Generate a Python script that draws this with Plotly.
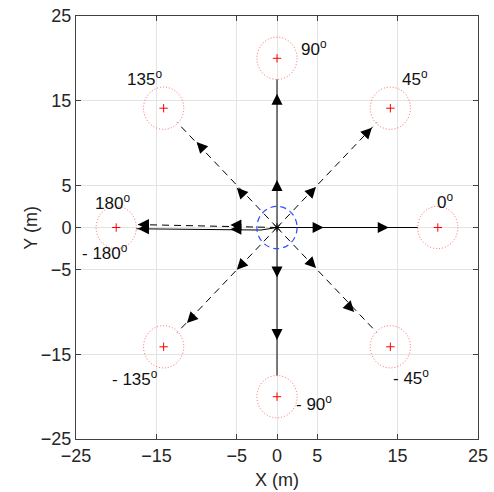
import plotly.graph_objects as go

# ---- data ----
tick_vals = [-25, -15, -5, 0, 5, 15, 25]

target_x = [20, 14.1, 0, -14.1, -20, -14.1, 0, 14.1]
target_y = [0, 14.1, 20, 14.1, 0, -14.1, -20, -14.1]
capture_r = 2.5

label_text = ["0<sup>o</sup>", "45<sup>o</sup>", "90<sup>o</sup>", "135<sup>o</sup>", "180<sup>o</sup>",
              "- 135<sup>o</sup>", "- 90<sup>o</sup>", "- 45<sup>o</sup>", "- 180<sup>o</sup>"]
label_x = [20.9, 17.2, 4.6, -16.5, -20.4, -17.7, 4.6, 16.7, -21.4]
label_y = [3.1, 17.7, 21.2, 17.7, 3.0, -17.8, -20.7, -17.7, -2.9]

# paths (start -> end) and their styles
path_x = [[0, 17.5], [0, 12.4], [0, 0], [0, -12.4], [0, -17.5], [0, -2.0, -17.5], [0, -12.4], [0, 0], [0, 12.4]]
path_y = [[0, 0], [0, 12.4], [0, 17.5], [0, 12.4], [0, 0.35], [0, -0.3, -0.15], [0, -12.4], [0, -17.5], [0, -12.4]]
path_dash = ["solid", "dash", "solid", "dash", "dash", "solid", "dash", "solid", "dash"]

# arrow tips along each path and their direction
arrow_x = [5.8, 13.9, 4.85, 11.8, 0, 0, -5.0, -10.0, -5.8, -17.3, -5.8, -17.3, -5.0, -11.2, 0, 0, 4.85, 9.6]
arrow_y = [0, 0, 4.8, 11.8, 5.6, 15.8, 4.7, 10.1, 0.3, 0.35, -0.2, -0.15, -5.0, -11.3, -5.9, -13.3, -4.8, -10.0]
arrow_dir_x = [1, 1, 1, 1, 0, 0, -1, -1, -1, -1, -1, -1, -1, -1, 0, 0, 1, 1]
arrow_dir_y = [0, 0, 1, 1, 1, 1, 1, 1, 0, 0, 0, 0, -1, -1, -1, -1, -1, -1]

FONT = "Liberation Sans, Arial"

fig = go.Figure()

for px, py, dsh in zip(path_x, path_y, path_dash):
    fig.add_trace(go.Scatter(x=px, y=py, mode="lines",
                             line=dict(color="black", width=1, dash="7px,5px" if dsh == "dash" else "solid"),
                             hoverinfo="skip", showlegend=False))

fig.add_trace(go.Scatter(x=target_x, y=target_y, mode="markers",
                         marker=dict(symbol="cross-thin", size=6, line=dict(color="red", width=1)),
                         showlegend=False))
fig.add_trace(go.Scatter(x=[0], y=[0], mode="markers",
                         marker=dict(symbol="asterisk", size=7, line=dict(color="black", width=1)),
                         showlegend=False))

shapes = []
for tx, ty in zip(target_x, target_y):
    shapes.append(dict(type="circle", xref="x", yref="y",
                       x0=tx - capture_r, x1=tx + capture_r, y0=ty - capture_r, y1=ty + capture_r,
                       line=dict(color="#ff4040", width=0.8, dash="1px,2px")))
shapes.append(dict(type="circle", xref="x", yref="y",
                   x0=-capture_r, x1=capture_r, y0=-capture_r, y1=capture_r,
                   line=dict(color="#3050ff", width=1.2, dash="6px,4px")))

annotations = []
for ax_, ay_, dx, dy in zip(arrow_x, arrow_y, arrow_dir_x, arrow_dir_y):
    n = (dx * dx + dy * dy) ** 0.5
    annotations.append(dict(x=ax_, y=ay_, ax=ax_ - 0.8 * dx / n, ay=ay_ - 0.8 * dy / n,
                            xref="x", yref="y", axref="x", ayref="y", text="",
                            showarrow=True, arrowhead=2, arrowsize=2.2, arrowwidth=1,
                            arrowcolor="black"))
for t, lx, ly in zip(label_text, label_x, label_y):
    annotations.append(dict(x=lx, y=ly, xref="x", yref="y", text=t, showarrow=False,
                            font=dict(size=17, color="#111111", family=FONT)))

# axis titles placed in paper coordinates
annotations.append(dict(x=0.5, y=-0.097, xref="paper", yref="paper", text="X (m)", showarrow=False,
                        xanchor="center", yanchor="middle",
                        font=dict(size=18, color="#262626", family=FONT)))
annotations.append(dict(x=-0.114, y=0.5, xref="paper", yref="paper", text="Y (m)", showarrow=False,
                        xanchor="center", yanchor="middle", textangle=-90,
                        font=dict(size=18, color="#262626", family=FONT)))

axis_common = dict(range=[-25, 25], tickvals=tick_vals, showgrid=True, gridcolor="#e3e3e3",
                   gridwidth=1, zeroline=False, showline=True, linecolor="#404040", linewidth=1,
                   mirror="ticks", ticks="inside", ticklen=5, tickcolor="#404040", automargin=False,
                   tickfont=dict(size=18, color="#262626", family=FONT))

fig.update_layout(
    width=494, height=492,
    margin=dict(l=76, r=16, t=16, b=53),
    plot_bgcolor="white", paper_bgcolor="white",
    xaxis=dict(**axis_common),
    yaxis=dict(**axis_common),
    shapes=shapes, annotations=annotations,
)

fig.write_html("out.html")
